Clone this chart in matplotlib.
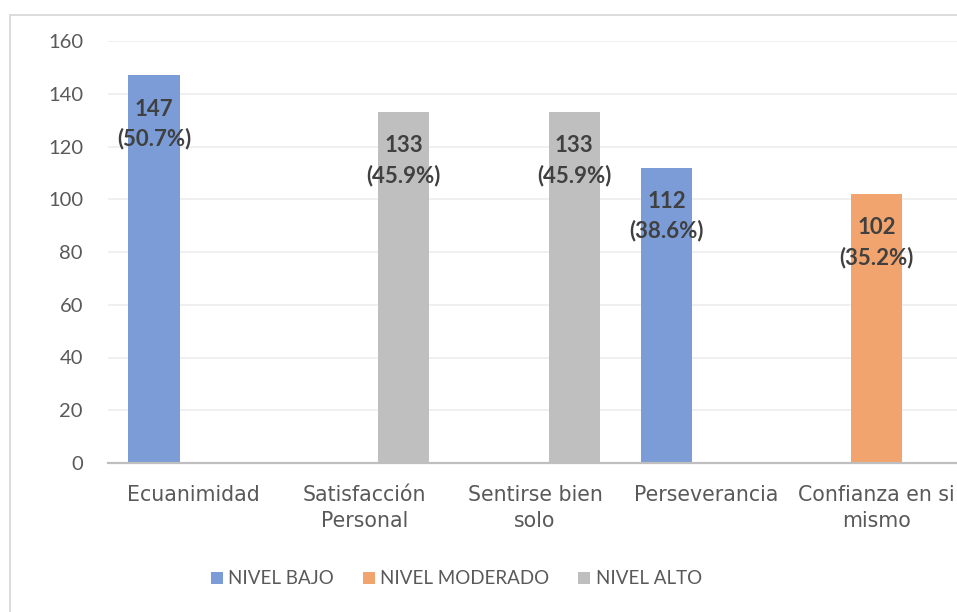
import matplotlib.pyplot as plt
import matplotlib.patches as mpatches
import numpy as np

# data
categorias = ["Ecuanimidad", "Satisfacción\nPersonal", "Sentirse bien\nsolo",
              "Perseverancia", "Confianza en si\nmismo"]
nivel_bajo = [147, 0, 0, 112, 0]
nivel_moderado = [0, 0, 0, 0, 102]
nivel_alto = [0, 133, 133, 0, 0]
pct_bajo = [50.7, 0, 0, 38.6, 0]
pct_moderado = [0, 0, 0, 0, 35.2]
pct_alto = [0, 45.9, 45.9, 0, 0]

series = [("NIVEL BAJO", nivel_bajo, pct_bajo, "#7B9CD6"),
          ("NIVEL MODERADO", nivel_moderado, pct_moderado, "#F1A46D"),
          ("NIVEL ALTO", nivel_alto, pct_alto, "#BFBFBF")]

fig = plt.figure(figsize=(9.57, 6.12), dpi=100)
ax = fig.add_axes([108 / 957, 149 / 612, 854 / 957, 422 / 612])

# chart border (partly cut off on the right like the original)
fig.patches.append(mpatches.Rectangle((10 / 957, -0.1), 1.2, 1 - 15 / 612 + 0.1,
                                      transform=fig.transFigure, fill=False,
                                      edgecolor="#D9D9D9", linewidth=1.3))

x = np.arange(len(categorias))
offsets = [-0.23, 0, 0.23]
width = 0.3
handles = []
for (name, vals, pcts, color), off in zip(series, offsets):
    bars = ax.bar(x + off, vals, width, color=color, zorder=3, label=name)
    handles.append(bars)
    for b, v, p in zip(bars, vals, pcts):
        if v == 0:
            continue
        ax.annotate(f"{v}\n({p}%)", (b.get_x() + b.get_width() / 2, v),
                    xytext=(0, -35), textcoords="offset points",
                    ha="center", va="center", fontsize=16, fontweight="bold",
                    family="Lato", color="#404040", linespacing=1.45, zorder=4)

ax.set_ylim(0, 160)
ax.set_xlim(-0.5, 4.5)
ax.set_yticks(range(0, 161, 20))
ax.set_xticks(x)
ax.set_xticklabels(categorias, fontsize=14.8, color="#595959", linespacing=1.35)
for t in ax.get_yticklabels():
    t.set_fontsize(14.5)
    t.set_family("Lato")
    t.set_color("#595959")
ax.tick_params(axis="y", length=0, pad=18)
ax.tick_params(axis="x", length=0, pad=16)
ax.grid(axis="y", color="#EDEDED", linewidth=1.2, zorder=0)
for s in ["left", "right", "top"]:
    ax.spines[s].set_visible(False)
ax.spines["bottom"].set_color("#BFBFBF")
ax.spines["bottom"].set_linewidth(1.6)
ax.spines["bottom"].set_zorder(5)

leg = fig.legend(handles=handles, loc="center", bbox_to_anchor=(0.477, 1 - 579 / 612),
                 ncol=3, frameon=False, handlelength=0.64, handleheight=0.64,
                 handletextpad=0.27, columnspacing=1.55,
                 prop={"family": "Lato", "size": 13.5})
for t in leg.get_texts():
    t.set_color("#595959")

fig.savefig("out.png", dpi=100)
